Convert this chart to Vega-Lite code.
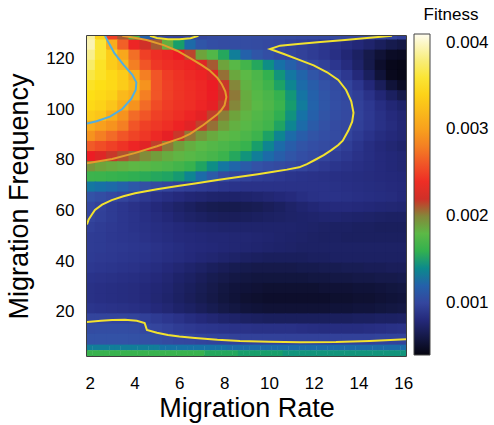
{
"$schema":"https://vega.github.io/schema/vega-lite/v6.json",
"width":319,"height":320,
"autosize":{"type":"none"},
"padding":{"left":87,"top":36,"right":88,"bottom":69},
"background":"white",
"config":{"font":"Liberation Sans","view":{"stroke":"#000","strokeWidth":1.5},
"axis":{"grid":false,"ticks":false,"domain":false,"labelColor":"#000","titleColor":"#000","labelFontSize":17,"titleFontSize":27,"titleFontWeight":"normal","labelFlush":false}},
"datasets":{
"grid":[
{"r":2,"f":129,"v":0.0039},{"r":2.5,"f":129,"v":0.0034},{"r":3,"f":129,"v":0.0025},{"r":3.5,"f":129,"v":0.0021},{"r":4,"f":129,"v":0.0017},{"r":4.5,"f":129,"v":0.0012},{"r":5,"f":129,"v":0.00103},{"r":5.5,"f":129,"v":0.00098},{"r":6,"f":129,"v":0.00097},{"r":6.5,"f":129,"v":0.00098},{"r":7,"f":129,"v":0.00101},{"r":7.5,"f":129,"v":0.00103},{"r":8,"f":129,"v":0.00104},{"r":8.5,"f":129,"v":0.00105},{"r":9,"f":129,"v":0.00105},{"r":9.5,"f":129,"v":0.00104},{"r":10,"f":129,"v":0.00104},{"r":10.5,"f":129,"v":0.00103},{"r":11,"f":129,"v":0.00103},{"r":11.5,"f":129,"v":0.00102},{"r":12,"f":129,"v":0.00102},{"r":12.5,"f":129,"v":0.00102},{"r":13,"f":129,"v":0.00102},{"r":13.5,"f":129,"v":0.00101},{"r":14,"f":129,"v":0.00101},{"r":14.5,"f":129,"v":0.00101},{"r":15,"f":129,"v":0.001005},{"r":15.5,"f":129,"v":0.00099},{"r":16,"f":129,"v":0.00095},
{"r":2,"f":125,"v":0.00395},{"r":2.5,"f":125,"v":0.0036},{"r":3,"f":125,"v":0.0031},{"r":3.5,"f":125,"v":0.00265},{"r":4,"f":125,"v":0.00235},{"r":4.5,"f":125,"v":0.0022},{"r":5,"f":125,"v":0.0021},{"r":5.5,"f":125,"v":0.00185},{"r":6,"f":125,"v":0.0015},{"r":6.5,"f":125,"v":0.00125},{"r":7,"f":125,"v":0.00112},{"r":7.5,"f":125,"v":0.00107},{"r":8,"f":125,"v":0.00105},{"r":8.5,"f":125,"v":0.00105},{"r":9,"f":125,"v":0.00105},{"r":9.5,"f":125,"v":0.00104},{"r":10,"f":125,"v":0.00102},{"r":10.5,"f":125,"v":0.001},{"r":11,"f":125,"v":0.00097},{"r":11.5,"f":125,"v":0.00095},{"r":12,"f":125,"v":0.00093},{"r":12.5,"f":125,"v":0.0009},{"r":13,"f":125,"v":0.00087},{"r":13.5,"f":125,"v":0.00083},{"r":14,"f":125,"v":0.00079},{"r":14.5,"f":125,"v":0.00074},{"r":15,"f":125,"v":0.00068},{"r":15.5,"f":125,"v":0.00063},{"r":16,"f":125,"v":0.0006},
{"r":2,"f":121,"v":0.00385},{"r":2.5,"f":121,"v":0.0036},{"r":3,"f":121,"v":0.00335},{"r":3.5,"f":121,"v":0.00305},{"r":4,"f":121,"v":0.00272},{"r":4.5,"f":121,"v":0.0025},{"r":5,"f":121,"v":0.0024},{"r":5.5,"f":121,"v":0.00236},{"r":6,"f":121,"v":0.0023},{"r":6.5,"f":121,"v":0.00215},{"r":7,"f":121,"v":0.0019},{"r":7.5,"f":121,"v":0.00175},{"r":8,"f":121,"v":0.00155},{"r":8.5,"f":121,"v":0.00135},{"r":9,"f":121,"v":0.0012},{"r":9.5,"f":121,"v":0.00112},{"r":10,"f":121,"v":0.00107},{"r":10.5,"f":121,"v":0.00102},{"r":11,"f":121,"v":0.000995},{"r":11.5,"f":121,"v":0.00097},{"r":12,"f":121,"v":0.00094},{"r":12.5,"f":121,"v":0.0009},{"r":13,"f":121,"v":0.00085},{"r":13.5,"f":121,"v":0.00078},{"r":14,"f":121,"v":0.0007},{"r":14.5,"f":121,"v":0.00062},{"r":15,"f":121,"v":0.00055},{"r":15.5,"f":121,"v":0.0005},{"r":16,"f":121,"v":0.00048},
{"r":2,"f":117,"v":0.00375},{"r":2.5,"f":117,"v":0.00355},{"r":3,"f":117,"v":0.00335},{"r":3.5,"f":117,"v":0.0032},{"r":4,"f":117,"v":0.0028},{"r":4.5,"f":117,"v":0.0026},{"r":5,"f":117,"v":0.00245},{"r":5.5,"f":117,"v":0.0024},{"r":6,"f":117,"v":0.00237},{"r":6.5,"f":117,"v":0.00234},{"r":7,"f":117,"v":0.00225},{"r":7.5,"f":117,"v":0.0021},{"r":8,"f":117,"v":0.0019},{"r":8.5,"f":117,"v":0.00178},{"r":9,"f":117,"v":0.00168},{"r":9.5,"f":117,"v":0.00155},{"r":10,"f":117,"v":0.00142},{"r":10.5,"f":117,"v":0.00129},{"r":11,"f":117,"v":0.00119},{"r":11.5,"f":117,"v":0.0011},{"r":12,"f":117,"v":0.001005},{"r":12.5,"f":117,"v":0.00096},{"r":13,"f":117,"v":0.0009},{"r":13.5,"f":117,"v":0.00082},{"r":14,"f":117,"v":0.00072},{"r":14.5,"f":117,"v":0.00062},{"r":15,"f":117,"v":0.00052},{"r":15.5,"f":117,"v":0.00045},{"r":16,"f":117,"v":0.00043},
{"r":2,"f":113,"v":0.00365},{"r":2.5,"f":113,"v":0.00355},{"r":3,"f":113,"v":0.00345},{"r":3.5,"f":113,"v":0.00335},{"r":4,"f":113,"v":0.0031},{"r":4.5,"f":113,"v":0.0028},{"r":5,"f":113,"v":0.0026},{"r":5.5,"f":113,"v":0.00248},{"r":6,"f":113,"v":0.00242},{"r":6.5,"f":113,"v":0.00238},{"r":7,"f":113,"v":0.00234},{"r":7.5,"f":113,"v":0.00225},{"r":8,"f":113,"v":0.00205},{"r":8.5,"f":113,"v":0.00188},{"r":9,"f":113,"v":0.0018},{"r":9.5,"f":113,"v":0.00172},{"r":10,"f":113,"v":0.0016},{"r":10.5,"f":113,"v":0.00145},{"r":11,"f":113,"v":0.00132},{"r":11.5,"f":113,"v":0.00122},{"r":12,"f":113,"v":0.00112},{"r":12.5,"f":113,"v":0.00104},{"r":13,"f":113,"v":0.000985},{"r":13.5,"f":113,"v":0.00091},{"r":14,"f":113,"v":0.0008},{"r":14.5,"f":113,"v":0.00068},{"r":15,"f":113,"v":0.00056},{"r":15.5,"f":113,"v":0.00046},{"r":16,"f":113,"v":0.00043},
{"r":2,"f":109,"v":0.00355},{"r":2.5,"f":109,"v":0.0035},{"r":3,"f":109,"v":0.00345},{"r":3.5,"f":109,"v":0.00335},{"r":4,"f":109,"v":0.0032},{"r":4.5,"f":109,"v":0.0029},{"r":5,"f":109,"v":0.0026},{"r":5.5,"f":109,"v":0.0025},{"r":6,"f":109,"v":0.00244},{"r":6.5,"f":109,"v":0.0024},{"r":7,"f":109,"v":0.00236},{"r":7.5,"f":109,"v":0.0023},{"r":8,"f":109,"v":0.00218},{"r":8.5,"f":109,"v":0.002},{"r":9,"f":109,"v":0.00183},{"r":9.5,"f":109,"v":0.00174},{"r":10,"f":109,"v":0.00166},{"r":10.5,"f":109,"v":0.00152},{"r":11,"f":109,"v":0.00138},{"r":11.5,"f":109,"v":0.00126},{"r":12,"f":109,"v":0.00117},{"r":12.5,"f":109,"v":0.0011},{"r":13,"f":109,"v":0.00103},{"r":13.5,"f":109,"v":0.00098},{"r":14,"f":109,"v":0.0009},{"r":14.5,"f":109,"v":0.00079},{"r":15,"f":109,"v":0.00067},{"r":15.5,"f":109,"v":0.00056},{"r":16,"f":109,"v":0.0005},
{"r":2,"f":105,"v":0.0035},{"r":2.5,"f":105,"v":0.00345},{"r":3,"f":105,"v":0.0034},{"r":3.5,"f":105,"v":0.0032},{"r":4,"f":105,"v":0.0031},{"r":4.5,"f":105,"v":0.0028},{"r":5,"f":105,"v":0.0026},{"r":5.5,"f":105,"v":0.0025},{"r":6,"f":105,"v":0.00244},{"r":6.5,"f":105,"v":0.0024},{"r":7,"f":105,"v":0.00236},{"r":7.5,"f":105,"v":0.0023},{"r":8,"f":105,"v":0.0022},{"r":8.5,"f":105,"v":0.00203},{"r":9,"f":105,"v":0.00186},{"r":9.5,"f":105,"v":0.00177},{"r":10,"f":105,"v":0.00171},{"r":10.5,"f":105,"v":0.00161},{"r":11,"f":105,"v":0.00146},{"r":11.5,"f":105,"v":0.00131},{"r":12,"f":105,"v":0.0012},{"r":12.5,"f":105,"v":0.00112},{"r":13,"f":105,"v":0.00106},{"r":13.5,"f":105,"v":0.00101},{"r":14,"f":105,"v":0.00095},{"r":14.5,"f":105,"v":0.00087},{"r":15,"f":105,"v":0.00078},{"r":15.5,"f":105,"v":0.00069},{"r":16,"f":105,"v":0.00062},
{"r":2,"f":101,"v":0.00345},{"r":2.5,"f":101,"v":0.0034},{"r":3,"f":101,"v":0.0033},{"r":3.5,"f":101,"v":0.0031},{"r":4,"f":101,"v":0.0029},{"r":4.5,"f":101,"v":0.0027},{"r":5,"f":101,"v":0.00255},{"r":5.5,"f":101,"v":0.00248},{"r":6,"f":101,"v":0.00243},{"r":6.5,"f":101,"v":0.0024},{"r":7,"f":101,"v":0.00235},{"r":7.5,"f":101,"v":0.00228},{"r":8,"f":101,"v":0.00216},{"r":8.5,"f":101,"v":0.002},{"r":9,"f":101,"v":0.00187},{"r":9.5,"f":101,"v":0.00179},{"r":10,"f":101,"v":0.00173},{"r":10.5,"f":101,"v":0.00164},{"r":11,"f":101,"v":0.00149},{"r":11.5,"f":101,"v":0.00134},{"r":12,"f":101,"v":0.00121},{"r":12.5,"f":101,"v":0.00113},{"r":13,"f":101,"v":0.00107},{"r":13.5,"f":101,"v":0.00103},{"r":14,"f":101,"v":0.00097},{"r":14.5,"f":101,"v":0.00091},{"r":15,"f":101,"v":0.00084},{"r":15.5,"f":101,"v":0.00078},{"r":16,"f":101,"v":0.00073},
{"r":2,"f":97,"v":0.00335},{"r":2.5,"f":97,"v":0.0033},{"r":3,"f":97,"v":0.0031},{"r":3.5,"f":97,"v":0.0029},{"r":4,"f":97,"v":0.0027},{"r":4.5,"f":97,"v":0.0026},{"r":5,"f":97,"v":0.0025},{"r":5.5,"f":97,"v":0.00245},{"r":6,"f":97,"v":0.0024},{"r":6.5,"f":97,"v":0.00235},{"r":7,"f":97,"v":0.00227},{"r":7.5,"f":97,"v":0.00216},{"r":8,"f":97,"v":0.00202},{"r":8.5,"f":97,"v":0.0019},{"r":9,"f":97,"v":0.00182},{"r":9.5,"f":97,"v":0.00175},{"r":10,"f":97,"v":0.0017},{"r":10.5,"f":97,"v":0.00159},{"r":11,"f":97,"v":0.00144},{"r":11.5,"f":97,"v":0.0013},{"r":12,"f":97,"v":0.00119},{"r":12.5,"f":97,"v":0.00111},{"r":13,"f":97,"v":0.00106},{"r":13.5,"f":97,"v":0.001025},{"r":14,"f":97,"v":0.000975},{"r":14.5,"f":97,"v":0.00092},{"r":15,"f":97,"v":0.00086},{"r":15.5,"f":97,"v":0.00081},{"r":16,"f":97,"v":0.00077},
{"r":2,"f":93,"v":0.0031},{"r":2.5,"f":93,"v":0.003},{"r":3,"f":93,"v":0.0029},{"r":3.5,"f":93,"v":0.0028},{"r":4,"f":93,"v":0.0026},{"r":4.5,"f":93,"v":0.0025},{"r":5,"f":93,"v":0.00245},{"r":5.5,"f":93,"v":0.0024},{"r":6,"f":93,"v":0.00234},{"r":6.5,"f":93,"v":0.00226},{"r":7,"f":93,"v":0.00216},{"r":7.5,"f":93,"v":0.00205},{"r":8,"f":93,"v":0.00193},{"r":8.5,"f":93,"v":0.00184},{"r":9,"f":93,"v":0.00178},{"r":9.5,"f":93,"v":0.00172},{"r":10,"f":93,"v":0.00167},{"r":10.5,"f":93,"v":0.00153},{"r":11,"f":93,"v":0.00138},{"r":11.5,"f":93,"v":0.00126},{"r":12,"f":93,"v":0.00116},{"r":12.5,"f":93,"v":0.00109},{"r":13,"f":93,"v":0.00104},{"r":13.5,"f":93,"v":0.001015},{"r":14,"f":93,"v":0.00096},{"r":14.5,"f":93,"v":0.00091},{"r":15,"f":93,"v":0.00086},{"r":15.5,"f":93,"v":0.00082},{"r":16,"f":93,"v":0.00078},
{"r":2,"f":89,"v":0.0029},{"r":2.5,"f":89,"v":0.0028},{"r":3,"f":89,"v":0.0027},{"r":3.5,"f":89,"v":0.0026},{"r":4,"f":89,"v":0.00252},{"r":4.5,"f":89,"v":0.00245},{"r":5,"f":89,"v":0.00237},{"r":5.5,"f":89,"v":0.00228},{"r":6,"f":89,"v":0.00218},{"r":6.5,"f":89,"v":0.00204},{"r":7,"f":89,"v":0.00195},{"r":7.5,"f":89,"v":0.00187},{"r":8,"f":89,"v":0.00181},{"r":8.5,"f":89,"v":0.00177},{"r":9,"f":89,"v":0.00172},{"r":9.5,"f":89,"v":0.00165},{"r":10,"f":89,"v":0.00152},{"r":10.5,"f":89,"v":0.00138},{"r":11,"f":89,"v":0.00126},{"r":11.5,"f":89,"v":0.00117},{"r":12,"f":89,"v":0.00111},{"r":12.5,"f":89,"v":0.00107},{"r":13,"f":89,"v":0.00104},{"r":13.5,"f":89,"v":0.00099},{"r":14,"f":89,"v":0.00093},{"r":14.5,"f":89,"v":0.00088},{"r":15,"f":89,"v":0.00083},{"r":15.5,"f":89,"v":0.0008},{"r":16,"f":89,"v":0.00077},
{"r":2,"f":85,"v":0.00262},{"r":2.5,"f":85,"v":0.00256},{"r":3,"f":85,"v":0.0025},{"r":3.5,"f":85,"v":0.00243},{"r":4,"f":85,"v":0.00235},{"r":4.5,"f":85,"v":0.00226},{"r":5,"f":85,"v":0.00216},{"r":5.5,"f":85,"v":0.00203},{"r":6,"f":85,"v":0.00192},{"r":6.5,"f":85,"v":0.00185},{"r":7,"f":85,"v":0.0018},{"r":7.5,"f":85,"v":0.00176},{"r":8,"f":85,"v":0.00172},{"r":8.5,"f":85,"v":0.00168},{"r":9,"f":85,"v":0.00162},{"r":9.5,"f":85,"v":0.0015},{"r":10,"f":85,"v":0.00138},{"r":10.5,"f":85,"v":0.00126},{"r":11,"f":85,"v":0.00117},{"r":11.5,"f":85,"v":0.00111},{"r":12,"f":85,"v":0.00107},{"r":12.5,"f":85,"v":0.00104},{"r":13,"f":85,"v":0.001},{"r":13.5,"f":85,"v":0.00095},{"r":14,"f":85,"v":0.00089},{"r":14.5,"f":85,"v":0.00084},{"r":15,"f":85,"v":0.0008},{"r":15.5,"f":85,"v":0.00077},{"r":16,"f":85,"v":0.00074},
{"r":2,"f":81,"v":0.0023},{"r":2.5,"f":81,"v":0.00225},{"r":3,"f":81,"v":0.00218},{"r":3.5,"f":81,"v":0.00212},{"r":4,"f":81,"v":0.00205},{"r":4.5,"f":81,"v":0.00198},{"r":5,"f":81,"v":0.00192},{"r":5.5,"f":81,"v":0.00186},{"r":6,"f":81,"v":0.00182},{"r":6.5,"f":81,"v":0.00178},{"r":7,"f":81,"v":0.00174},{"r":7.5,"f":81,"v":0.0017},{"r":8,"f":81,"v":0.00164},{"r":8.5,"f":81,"v":0.00155},{"r":9,"f":81,"v":0.00145},{"r":9.5,"f":81,"v":0.00135},{"r":10,"f":81,"v":0.00126},{"r":10.5,"f":81,"v":0.00118},{"r":11,"f":81,"v":0.00112},{"r":11.5,"f":81,"v":0.00107},{"r":12,"f":81,"v":0.00103},{"r":12.5,"f":81,"v":0.00099},{"r":13,"f":81,"v":0.00095},{"r":13.5,"f":81,"v":0.00091},{"r":14,"f":81,"v":0.00087},{"r":14.5,"f":81,"v":0.00084},{"r":15,"f":81,"v":0.00081},{"r":15.5,"f":81,"v":0.00079},{"r":16,"f":81,"v":0.00077},
{"r":2,"f":77,"v":0.00195},{"r":2.5,"f":77,"v":0.0019},{"r":3,"f":77,"v":0.00187},{"r":3.5,"f":77,"v":0.00184},{"r":4,"f":77,"v":0.00181},{"r":4.5,"f":77,"v":0.00178},{"r":5,"f":77,"v":0.00175},{"r":5.5,"f":77,"v":0.00172},{"r":6,"f":77,"v":0.00168},{"r":6.5,"f":77,"v":0.00162},{"r":7,"f":77,"v":0.00153},{"r":7.5,"f":77,"v":0.00142},{"r":8,"f":77,"v":0.00132},{"r":8.5,"f":77,"v":0.00123},{"r":9,"f":77,"v":0.00116},{"r":9.5,"f":77,"v":0.0011},{"r":10,"f":77,"v":0.00106},{"r":10.5,"f":77,"v":0.00103},{"r":11,"f":77,"v":0.00101},{"r":11.5,"f":77,"v":0.000985},{"r":12,"f":77,"v":0.00095},{"r":12.5,"f":77,"v":0.00092},{"r":13,"f":77,"v":0.00089},{"r":13.5,"f":77,"v":0.00087},{"r":14,"f":77,"v":0.00085},{"r":14.5,"f":77,"v":0.00083},{"r":15,"f":77,"v":0.00081},{"r":15.5,"f":77,"v":0.00079},{"r":16,"f":77,"v":0.00077},
{"r":2,"f":73,"v":0.00165},{"r":2.5,"f":73,"v":0.00164},{"r":3,"f":73,"v":0.00162},{"r":3.5,"f":73,"v":0.0016},{"r":4,"f":73,"v":0.00159},{"r":4.5,"f":73,"v":0.00157},{"r":5,"f":73,"v":0.00155},{"r":5.5,"f":73,"v":0.00153},{"r":6,"f":73,"v":0.00148},{"r":6.5,"f":73,"v":0.00138},{"r":7,"f":73,"v":0.00126},{"r":7.5,"f":73,"v":0.00115},{"r":8,"f":73,"v":0.00104},{"r":8.5,"f":73,"v":0.001},{"r":9,"f":73,"v":0.00098},{"r":9.5,"f":73,"v":0.00095},{"r":10,"f":73,"v":0.00093},{"r":10.5,"f":73,"v":0.00091},{"r":11,"f":73,"v":0.00089},{"r":11.5,"f":73,"v":0.00088},{"r":12,"f":73,"v":0.00087},{"r":12.5,"f":73,"v":0.00086},{"r":13,"f":73,"v":0.00085},{"r":13.5,"f":73,"v":0.00084},{"r":14,"f":73,"v":0.00083},{"r":14.5,"f":73,"v":0.00082},{"r":15,"f":73,"v":0.00081},{"r":15.5,"f":73,"v":0.0008},{"r":16,"f":73,"v":0.00079},
{"r":2,"f":69,"v":0.00132},{"r":2.5,"f":69,"v":0.00129},{"r":3,"f":69,"v":0.00125},{"r":3.5,"f":69,"v":0.0012},{"r":4,"f":69,"v":0.00114},{"r":4.5,"f":69,"v":0.00108},{"r":5,"f":69,"v":0.00103},{"r":5.5,"f":69,"v":0.000995},{"r":6,"f":69,"v":0.00097},{"r":6.5,"f":69,"v":0.00095},{"r":7,"f":69,"v":0.00093},{"r":7.5,"f":69,"v":0.00091},{"r":8,"f":69,"v":0.00089},{"r":8.5,"f":69,"v":0.00088},{"r":9,"f":69,"v":0.00087},{"r":9.5,"f":69,"v":0.00087},{"r":10,"f":69,"v":0.00087},{"r":10.5,"f":69,"v":0.00087},{"r":11,"f":69,"v":0.00087},{"r":11.5,"f":69,"v":0.00087},{"r":12,"f":69,"v":0.00087},{"r":12.5,"f":69,"v":0.00087},{"r":13,"f":69,"v":0.00086},{"r":13.5,"f":69,"v":0.00085},{"r":14,"f":69,"v":0.00084},{"r":14.5,"f":69,"v":0.00083},{"r":15,"f":69,"v":0.00082},{"r":15.5,"f":69,"v":0.00081},{"r":16,"f":69,"v":0.0008},
{"r":2,"f":65,"v":0.0011},{"r":2.5,"f":65,"v":0.00106},{"r":3,"f":65,"v":0.00102},{"r":3.5,"f":65,"v":0.00099},{"r":4,"f":65,"v":0.00095},{"r":4.5,"f":65,"v":0.00091},{"r":5,"f":65,"v":0.00087},{"r":5.5,"f":65,"v":0.00084},{"r":6,"f":65,"v":0.00081},{"r":6.5,"f":65,"v":0.00078},{"r":7,"f":65,"v":0.00076},{"r":7.5,"f":65,"v":0.00074},{"r":8,"f":65,"v":0.00073},{"r":8.5,"f":65,"v":0.00073},{"r":9,"f":65,"v":0.00074},{"r":9.5,"f":65,"v":0.00075},{"r":10,"f":65,"v":0.00077},{"r":10.5,"f":65,"v":0.00079},{"r":11,"f":65,"v":0.00081},{"r":11.5,"f":65,"v":0.00084},{"r":12,"f":65,"v":0.00086},{"r":12.5,"f":65,"v":0.00087},{"r":13,"f":65,"v":0.00087},{"r":13.5,"f":65,"v":0.00086},{"r":14,"f":65,"v":0.00085},{"r":14.5,"f":65,"v":0.00084},{"r":15,"f":65,"v":0.00083},{"r":15.5,"f":65,"v":0.00082},{"r":16,"f":65,"v":0.0008},
{"r":2,"f":61,"v":0.00101},{"r":2.5,"f":61,"v":0.00097},{"r":3,"f":61,"v":0.00093},{"r":3.5,"f":61,"v":0.0009},{"r":4,"f":61,"v":0.00087},{"r":4.5,"f":61,"v":0.00084},{"r":5,"f":61,"v":0.0008},{"r":5.5,"f":61,"v":0.00076},{"r":6,"f":61,"v":0.00072},{"r":6.5,"f":61,"v":0.00069},{"r":7,"f":61,"v":0.00066},{"r":7.5,"f":61,"v":0.00064},{"r":8,"f":61,"v":0.00063},{"r":8.5,"f":61,"v":0.00063},{"r":9,"f":61,"v":0.00064},{"r":9.5,"f":61,"v":0.00065},{"r":10,"f":61,"v":0.00067},{"r":10.5,"f":61,"v":0.00069},{"r":11,"f":61,"v":0.00072},{"r":11.5,"f":61,"v":0.00075},{"r":12,"f":61,"v":0.00078},{"r":12.5,"f":61,"v":0.0008},{"r":13,"f":61,"v":0.00081},{"r":13.5,"f":61,"v":0.00081},{"r":14,"f":61,"v":0.0008},{"r":14.5,"f":61,"v":0.00079},{"r":15,"f":61,"v":0.00078},{"r":15.5,"f":61,"v":0.00077},{"r":16,"f":61,"v":0.00076},
{"r":2,"f":57,"v":0.000995},{"r":2.5,"f":57,"v":0.00096},{"r":3,"f":57,"v":0.00093},{"r":3.5,"f":57,"v":0.0009},{"r":4,"f":57,"v":0.00088},{"r":4.5,"f":57,"v":0.00085},{"r":5,"f":57,"v":0.00082},{"r":5.5,"f":57,"v":0.00079},{"r":6,"f":57,"v":0.00075},{"r":6.5,"f":57,"v":0.00072},{"r":7,"f":57,"v":0.0007},{"r":7.5,"f":57,"v":0.00068},{"r":8,"f":57,"v":0.00067},{"r":8.5,"f":57,"v":0.00067},{"r":9,"f":57,"v":0.00068},{"r":9.5,"f":57,"v":0.00069},{"r":10,"f":57,"v":0.0007},{"r":10.5,"f":57,"v":0.00071},{"r":11,"f":57,"v":0.00072},{"r":11.5,"f":57,"v":0.00073},{"r":12,"f":57,"v":0.00074},{"r":12.5,"f":57,"v":0.00075},{"r":13,"f":57,"v":0.00075},{"r":13.5,"f":57,"v":0.00074},{"r":14,"f":57,"v":0.00073},{"r":14.5,"f":57,"v":0.00072},{"r":15,"f":57,"v":0.00071},{"r":15.5,"f":57,"v":0.0007},{"r":16,"f":57,"v":0.0007},
{"r":2,"f":53,"v":0.00096},{"r":2.5,"f":53,"v":0.00094},{"r":3,"f":53,"v":0.00092},{"r":3.5,"f":53,"v":0.0009},{"r":4,"f":53,"v":0.00088},{"r":4.5,"f":53,"v":0.00086},{"r":5,"f":53,"v":0.00084},{"r":5.5,"f":53,"v":0.00082},{"r":6,"f":53,"v":0.0008},{"r":6.5,"f":53,"v":0.00078},{"r":7,"f":53,"v":0.00076},{"r":7.5,"f":53,"v":0.00075},{"r":8,"f":53,"v":0.00074},{"r":8.5,"f":53,"v":0.00074},{"r":9,"f":53,"v":0.00074},{"r":9.5,"f":53,"v":0.00074},{"r":10,"f":53,"v":0.00074},{"r":10.5,"f":53,"v":0.00074},{"r":11,"f":53,"v":0.00074},{"r":11.5,"f":53,"v":0.00073},{"r":12,"f":53,"v":0.00072},{"r":12.5,"f":53,"v":0.00071},{"r":13,"f":53,"v":0.0007},{"r":13.5,"f":53,"v":0.0007},{"r":14,"f":53,"v":0.00069},{"r":14.5,"f":53,"v":0.00069},{"r":15,"f":53,"v":0.00068},{"r":15.5,"f":53,"v":0.00068},{"r":16,"f":53,"v":0.00068},
{"r":2,"f":49,"v":0.00094},{"r":2.5,"f":49,"v":0.00093},{"r":3,"f":49,"v":0.00091},{"r":3.5,"f":49,"v":0.0009},{"r":4,"f":49,"v":0.00089},{"r":4.5,"f":49,"v":0.00087},{"r":5,"f":49,"v":0.00085},{"r":5.5,"f":49,"v":0.00083},{"r":6,"f":49,"v":0.00081},{"r":6.5,"f":49,"v":0.0008},{"r":7,"f":49,"v":0.00079},{"r":7.5,"f":49,"v":0.00078},{"r":8,"f":49,"v":0.00078},{"r":8.5,"f":49,"v":0.00077},{"r":9,"f":49,"v":0.00077},{"r":9.5,"f":49,"v":0.00076},{"r":10,"f":49,"v":0.00075},{"r":10.5,"f":49,"v":0.00074},{"r":11,"f":49,"v":0.00073},{"r":11.5,"f":49,"v":0.00072},{"r":12,"f":49,"v":0.00071},{"r":12.5,"f":49,"v":0.0007},{"r":13,"f":49,"v":0.0007},{"r":13.5,"f":49,"v":0.00069},{"r":14,"f":49,"v":0.00069},{"r":14.5,"f":49,"v":0.00069},{"r":15,"f":49,"v":0.00069},{"r":15.5,"f":49,"v":0.00069},{"r":16,"f":49,"v":0.00069},
{"r":2,"f":45,"v":0.00094},{"r":2.5,"f":45,"v":0.00093},{"r":3,"f":45,"v":0.00092},{"r":3.5,"f":45,"v":0.00091},{"r":4,"f":45,"v":0.0009},{"r":4.5,"f":45,"v":0.00089},{"r":5,"f":45,"v":0.00087},{"r":5.5,"f":45,"v":0.00085},{"r":6,"f":45,"v":0.00083},{"r":6.5,"f":45,"v":0.00081},{"r":7,"f":45,"v":0.0008},{"r":7.5,"f":45,"v":0.00079},{"r":8,"f":45,"v":0.00078},{"r":8.5,"f":45,"v":0.00077},{"r":9,"f":45,"v":0.00076},{"r":9.5,"f":45,"v":0.00075},{"r":10,"f":45,"v":0.00074},{"r":10.5,"f":45,"v":0.00073},{"r":11,"f":45,"v":0.00072},{"r":11.5,"f":45,"v":0.00071},{"r":12,"f":45,"v":0.00071},{"r":12.5,"f":45,"v":0.00071},{"r":13,"f":45,"v":0.00071},{"r":13.5,"f":45,"v":0.00071},{"r":14,"f":45,"v":0.00071},{"r":14.5,"f":45,"v":0.00071},{"r":15,"f":45,"v":0.00071},{"r":15.5,"f":45,"v":0.00071},{"r":16,"f":45,"v":0.00071},
{"r":2,"f":41,"v":0.00093},{"r":2.5,"f":41,"v":0.00092},{"r":3,"f":41,"v":0.00091},{"r":3.5,"f":41,"v":0.0009},{"r":4,"f":41,"v":0.00089},{"r":4.5,"f":41,"v":0.00088},{"r":5,"f":41,"v":0.00086},{"r":5.5,"f":41,"v":0.00084},{"r":6,"f":41,"v":0.00082},{"r":6.5,"f":41,"v":0.0008},{"r":7,"f":41,"v":0.00078},{"r":7.5,"f":41,"v":0.00076},{"r":8,"f":41,"v":0.00074},{"r":8.5,"f":41,"v":0.00072},{"r":9,"f":41,"v":0.0007},{"r":9.5,"f":41,"v":0.00069},{"r":10,"f":41,"v":0.00068},{"r":10.5,"f":41,"v":0.00068},{"r":11,"f":41,"v":0.00068},{"r":11.5,"f":41,"v":0.00068},{"r":12,"f":41,"v":0.00069},{"r":12.5,"f":41,"v":0.00069},{"r":13,"f":41,"v":0.0007},{"r":13.5,"f":41,"v":0.0007},{"r":14,"f":41,"v":0.0007},{"r":14.5,"f":41,"v":0.0007},{"r":15,"f":41,"v":0.0007},{"r":15.5,"f":41,"v":0.0007},{"r":16,"f":41,"v":0.0007},
{"r":2,"f":37,"v":0.00091},{"r":2.5,"f":37,"v":0.0009},{"r":3,"f":37,"v":0.00089},{"r":3.5,"f":37,"v":0.00088},{"r":4,"f":37,"v":0.00087},{"r":4.5,"f":37,"v":0.00085},{"r":5,"f":37,"v":0.00083},{"r":5.5,"f":37,"v":0.0008},{"r":6,"f":37,"v":0.00077},{"r":6.5,"f":37,"v":0.00074},{"r":7,"f":37,"v":0.00071},{"r":7.5,"f":37,"v":0.00068},{"r":8,"f":37,"v":0.00066},{"r":8.5,"f":37,"v":0.00064},{"r":9,"f":37,"v":0.00063},{"r":9.5,"f":37,"v":0.00062},{"r":10,"f":37,"v":0.00062},{"r":10.5,"f":37,"v":0.00062},{"r":11,"f":37,"v":0.00062},{"r":11.5,"f":37,"v":0.00063},{"r":12,"f":37,"v":0.00063},{"r":12.5,"f":37,"v":0.00064},{"r":13,"f":37,"v":0.00064},{"r":13.5,"f":37,"v":0.00065},{"r":14,"f":37,"v":0.00065},{"r":14.5,"f":37,"v":0.00066},{"r":15,"f":37,"v":0.00066},{"r":15.5,"f":37,"v":0.00067},{"r":16,"f":37,"v":0.00067},
{"r":2,"f":33,"v":0.00088},{"r":2.5,"f":33,"v":0.00087},{"r":3,"f":33,"v":0.00086},{"r":3.5,"f":33,"v":0.00085},{"r":4,"f":33,"v":0.00084},{"r":4.5,"f":33,"v":0.00082},{"r":5,"f":33,"v":0.0008},{"r":5.5,"f":33,"v":0.00077},{"r":6,"f":33,"v":0.00073},{"r":6.5,"f":33,"v":0.0007},{"r":7,"f":33,"v":0.00067},{"r":7.5,"f":33,"v":0.00064},{"r":8,"f":33,"v":0.00062},{"r":8.5,"f":33,"v":0.0006},{"r":9,"f":33,"v":0.00059},{"r":9.5,"f":33,"v":0.00058},{"r":10,"f":33,"v":0.00058},{"r":10.5,"f":33,"v":0.00058},{"r":11,"f":33,"v":0.00058},{"r":11.5,"f":33,"v":0.00058},{"r":12,"f":33,"v":0.00059},{"r":12.5,"f":33,"v":0.00059},{"r":13,"f":33,"v":0.0006},{"r":13.5,"f":33,"v":0.0006},{"r":14,"f":33,"v":0.00061},{"r":14.5,"f":33,"v":0.00061},{"r":15,"f":33,"v":0.00062},{"r":15.5,"f":33,"v":0.00062},{"r":16,"f":33,"v":0.00063},
{"r":2,"f":29,"v":0.00086},{"r":2.5,"f":29,"v":0.00085},{"r":3,"f":29,"v":0.00084},{"r":3.5,"f":29,"v":0.00083},{"r":4,"f":29,"v":0.00082},{"r":4.5,"f":29,"v":0.0008},{"r":5,"f":29,"v":0.00078},{"r":5.5,"f":29,"v":0.00075},{"r":6,"f":29,"v":0.00071},{"r":6.5,"f":29,"v":0.00068},{"r":7,"f":29,"v":0.00065},{"r":7.5,"f":29,"v":0.00062},{"r":8,"f":29,"v":0.00059},{"r":8.5,"f":29,"v":0.00057},{"r":9,"f":29,"v":0.00056},{"r":9.5,"f":29,"v":0.00055},{"r":10,"f":29,"v":0.00054},{"r":10.5,"f":29,"v":0.00054},{"r":11,"f":29,"v":0.00054},{"r":11.5,"f":29,"v":0.00054},{"r":12,"f":29,"v":0.00054},{"r":12.5,"f":29,"v":0.00055},{"r":13,"f":29,"v":0.00055},{"r":13.5,"f":29,"v":0.00055},{"r":14,"f":29,"v":0.00056},{"r":14.5,"f":29,"v":0.00056},{"r":15,"f":29,"v":0.00057},{"r":15.5,"f":29,"v":0.00058},{"r":16,"f":29,"v":0.00059},
{"r":2,"f":25,"v":0.00086},{"r":2.5,"f":25,"v":0.00085},{"r":3,"f":25,"v":0.00084},{"r":3.5,"f":25,"v":0.00083},{"r":4,"f":25,"v":0.00082},{"r":4.5,"f":25,"v":0.0008},{"r":5,"f":25,"v":0.00077},{"r":5.5,"f":25,"v":0.00074},{"r":6,"f":25,"v":0.0007},{"r":6.5,"f":25,"v":0.00067},{"r":7,"f":25,"v":0.00064},{"r":7.5,"f":25,"v":0.00061},{"r":8,"f":25,"v":0.00058},{"r":8.5,"f":25,"v":0.00056},{"r":9,"f":25,"v":0.00054},{"r":9.5,"f":25,"v":0.00053},{"r":10,"f":25,"v":0.00052},{"r":10.5,"f":25,"v":0.00052},{"r":11,"f":25,"v":0.00052},{"r":11.5,"f":25,"v":0.00052},{"r":12,"f":25,"v":0.00052},{"r":12.5,"f":25,"v":0.00052},{"r":13,"f":25,"v":0.00053},{"r":13.5,"f":25,"v":0.00053},{"r":14,"f":25,"v":0.00054},{"r":14.5,"f":25,"v":0.00054},{"r":15,"f":25,"v":0.00055},{"r":15.5,"f":25,"v":0.00056},{"r":16,"f":25,"v":0.00057},
{"r":2,"f":21,"v":0.00089},{"r":2.5,"f":21,"v":0.00088},{"r":3,"f":21,"v":0.00087},{"r":3.5,"f":21,"v":0.00086},{"r":4,"f":21,"v":0.00085},{"r":4.5,"f":21,"v":0.00083},{"r":5,"f":21,"v":0.0008},{"r":5.5,"f":21,"v":0.00077},{"r":6,"f":21,"v":0.00073},{"r":6.5,"f":21,"v":0.0007},{"r":7,"f":21,"v":0.00067},{"r":7.5,"f":21,"v":0.00064},{"r":8,"f":21,"v":0.00061},{"r":8.5,"f":21,"v":0.00059},{"r":9,"f":21,"v":0.00057},{"r":9.5,"f":21,"v":0.00056},{"r":10,"f":21,"v":0.00055},{"r":10.5,"f":21,"v":0.00055},{"r":11,"f":21,"v":0.00055},{"r":11.5,"f":21,"v":0.00055},{"r":12,"f":21,"v":0.00055},{"r":12.5,"f":21,"v":0.00055},{"r":13,"f":21,"v":0.00056},{"r":13.5,"f":21,"v":0.00056},{"r":14,"f":21,"v":0.00057},{"r":14.5,"f":21,"v":0.00057},{"r":15,"f":21,"v":0.00058},{"r":15.5,"f":21,"v":0.00059},{"r":16,"f":21,"v":0.0006},
{"r":2,"f":17,"v":0.00099},{"r":2.5,"f":17,"v":0.00099},{"r":3,"f":17,"v":0.00099},{"r":3.5,"f":17,"v":0.00099},{"r":4,"f":17,"v":0.00098},{"r":4.5,"f":17,"v":0.00096},{"r":5,"f":17,"v":0.00093},{"r":5.5,"f":17,"v":0.0009},{"r":6,"f":17,"v":0.00087},{"r":6.5,"f":17,"v":0.00083},{"r":7,"f":17,"v":0.0008},{"r":7.5,"f":17,"v":0.00077},{"r":8,"f":17,"v":0.00074},{"r":8.5,"f":17,"v":0.00072},{"r":9,"f":17,"v":0.0007},{"r":9.5,"f":17,"v":0.00069},{"r":10,"f":17,"v":0.00068},{"r":10.5,"f":17,"v":0.00068},{"r":11,"f":17,"v":0.00068},{"r":11.5,"f":17,"v":0.00068},{"r":12,"f":17,"v":0.00068},{"r":12.5,"f":17,"v":0.00068},{"r":13,"f":17,"v":0.00068},{"r":13.5,"f":17,"v":0.00068},{"r":14,"f":17,"v":0.00069},{"r":14.5,"f":17,"v":0.00069},{"r":15,"f":17,"v":0.0007},{"r":15.5,"f":17,"v":0.0007},{"r":16,"f":17,"v":0.00071},
{"r":2,"f":13,"v":0.00105},{"r":2.5,"f":13,"v":0.00106},{"r":3,"f":13,"v":0.00106},{"r":3.5,"f":13,"v":0.00106},{"r":4,"f":13,"v":0.00105},{"r":4.5,"f":13,"v":0.00102},{"r":5,"f":13,"v":0.000995},{"r":5.5,"f":13,"v":0.00097},{"r":6,"f":13,"v":0.00094},{"r":6.5,"f":13,"v":0.00092},{"r":7,"f":13,"v":0.0009},{"r":7.5,"f":13,"v":0.00089},{"r":8,"f":13,"v":0.00088},{"r":8.5,"f":13,"v":0.00087},{"r":9,"f":13,"v":0.00087},{"r":9.5,"f":13,"v":0.00086},{"r":10,"f":13,"v":0.00086},{"r":10.5,"f":13,"v":0.00086},{"r":11,"f":13,"v":0.00086},{"r":11.5,"f":13,"v":0.00085},{"r":12,"f":13,"v":0.00084},{"r":12.5,"f":13,"v":0.00083},{"r":13,"f":13,"v":0.00083},{"r":13.5,"f":13,"v":0.00083},{"r":14,"f":13,"v":0.00083},{"r":14.5,"f":13,"v":0.00084},{"r":15,"f":13,"v":0.00085},{"r":15.5,"f":13,"v":0.00086},{"r":16,"f":13,"v":0.00087},
{"r":2,"f":9,"v":0.0011},{"r":2.5,"f":9,"v":0.0011},{"r":3,"f":9,"v":0.0011},{"r":3.5,"f":9,"v":0.0011},{"r":4,"f":9,"v":0.00109},{"r":4.5,"f":9,"v":0.00108},{"r":5,"f":9,"v":0.00106},{"r":5.5,"f":9,"v":0.00103},{"r":6,"f":9,"v":0.00101},{"r":6.5,"f":9,"v":0.001},{"r":7,"f":9,"v":0.00099},{"r":7.5,"f":9,"v":0.00098},{"r":8,"f":9,"v":0.00098},{"r":8.5,"f":9,"v":0.00097},{"r":9,"f":9,"v":0.00097},{"r":9.5,"f":9,"v":0.00097},{"r":10,"f":9,"v":0.00097},{"r":10.5,"f":9,"v":0.00097},{"r":11,"f":9,"v":0.00097},{"r":11.5,"f":9,"v":0.00097},{"r":12,"f":9,"v":0.00097},{"r":12.5,"f":9,"v":0.00097},{"r":13,"f":9,"v":0.00097},{"r":13.5,"f":9,"v":0.00097},{"r":14,"f":9,"v":0.00097},{"r":14.5,"f":9,"v":0.00097},{"r":15,"f":9,"v":0.00098},{"r":15.5,"f":9,"v":0.00098},{"r":16,"f":9,"v":0.00098}
],
"edge":[
{"r":2,"f":5.9,"v":0.00135},{"r":2.25,"f":5.9,"v":0.00135},{"r":2.5,"f":5.9,"v":0.00135},{"r":2.75,"f":5.9,"v":0.00135},{"r":3,"f":5.9,"v":0.00135},{"r":3.25,"f":5.9,"v":0.00135},{"r":3.5,"f":5.9,"v":0.00135},{"r":3.75,"f":5.9,"v":0.00135},{"r":4,"f":5.9,"v":0.00135},{"r":4.25,"f":5.9,"v":0.00135},{"r":4.5,"f":5.9,"v":0.00135},{"r":4.75,"f":5.9,"v":0.00135},{"r":5,"f":5.9,"v":0.00135},{"r":5.25,"f":5.9,"v":0.0013},{"r":5.5,"f":5.9,"v":0.0013},{"r":5.75,"f":5.9,"v":0.0013},{"r":6,"f":5.9,"v":0.0013},{"r":6.25,"f":5.9,"v":0.0013},{"r":6.5,"f":5.9,"v":0.0013},{"r":6.75,"f":5.9,"v":0.0013},{"r":7,"f":5.9,"v":0.0013},{"r":7.25,"f":5.9,"v":0.0013},{"r":7.5,"f":5.9,"v":0.0013},{"r":7.75,"f":5.9,"v":0.0013},{"r":8,"f":5.9,"v":0.0013},{"r":8.25,"f":5.9,"v":0.00126},{"r":8.5,"f":5.9,"v":0.00126},{"r":8.75,"f":5.9,"v":0.00126},{"r":9,"f":5.9,"v":0.00126},{"r":9.25,"f":5.9,"v":0.00126},{"r":9.5,"f":5.9,"v":0.00126},{"r":9.75,"f":5.9,"v":0.00126},{"r":10,"f":5.9,"v":0.00126},{"r":10.25,"f":5.9,"v":0.00126},{"r":10.5,"f":5.9,"v":0.00126},{"r":10.75,"f":5.9,"v":0.00126},{"r":11,"f":5.9,"v":0.00126},{"r":11.25,"f":5.9,"v":0.00126},{"r":11.5,"f":5.9,"v":0.00126},{"r":11.75,"f":5.9,"v":0.00126},{"r":12,"f":5.9,"v":0.00126},{"r":12.25,"f":5.9,"v":0.00126},{"r":12.5,"f":5.9,"v":0.00126},{"r":12.75,"f":5.9,"v":0.00126},{"r":13,"f":5.9,"v":0.00126},{"r":13.25,"f":5.9,"v":0.00126},{"r":13.5,"f":5.9,"v":0.00126},{"r":13.75,"f":5.9,"v":0.00126},{"r":14,"f":5.9,"v":0.00126},{"r":14.25,"f":5.9,"v":0.00126},{"r":14.5,"f":5.9,"v":0.00126},{"r":14.75,"f":5.9,"v":0.00126},{"r":15,"f":5.9,"v":0.00126},{"r":15.25,"f":5.9,"v":0.00126},{"r":15.5,"f":5.9,"v":0.00126},{"r":15.75,"f":5.9,"v":0.00126},{"r":16,"f":5.9,"v":0.00126},
{"r":2,"f":3.7,"v":0.00163},{"r":2.25,"f":3.7,"v":0.00163},{"r":2.5,"f":3.7,"v":0.00163},{"r":2.75,"f":3.7,"v":0.00163},{"r":3,"f":3.7,"v":0.00163},{"r":3.25,"f":3.7,"v":0.00163},{"r":3.5,"f":3.7,"v":0.00163},{"r":3.75,"f":3.7,"v":0.00163},{"r":4,"f":3.7,"v":0.00163},{"r":4.25,"f":3.7,"v":0.00163},{"r":4.5,"f":3.7,"v":0.00163},{"r":4.75,"f":3.7,"v":0.00163},{"r":5,"f":3.7,"v":0.00163},{"r":5.25,"f":3.7,"v":0.00163},{"r":5.5,"f":3.7,"v":0.00163},{"r":5.75,"f":3.7,"v":0.00163},{"r":6,"f":3.7,"v":0.00163},{"r":6.25,"f":3.7,"v":0.00163},{"r":6.5,"f":3.7,"v":0.00163},{"r":6.75,"f":3.7,"v":0.00163},{"r":7,"f":3.7,"v":0.00163},{"r":7.25,"f":3.7,"v":0.00155},{"r":7.5,"f":3.7,"v":0.00155},{"r":7.75,"f":3.7,"v":0.00155},{"r":8,"f":3.7,"v":0.00155},{"r":8.25,"f":3.7,"v":0.00155},{"r":8.5,"f":3.7,"v":0.00155},{"r":8.75,"f":3.7,"v":0.0015},{"r":9,"f":3.7,"v":0.0015},{"r":9.25,"f":3.7,"v":0.0015},{"r":9.5,"f":3.7,"v":0.0015},{"r":9.75,"f":3.7,"v":0.0015},{"r":10,"f":3.7,"v":0.0015},{"r":10.25,"f":3.7,"v":0.0015},{"r":10.5,"f":3.7,"v":0.0015},{"r":10.75,"f":3.7,"v":0.00145},{"r":11,"f":3.7,"v":0.00145},{"r":11.25,"f":3.7,"v":0.00145},{"r":11.5,"f":3.7,"v":0.00145},{"r":11.75,"f":3.7,"v":0.00145},{"r":12,"f":3.7,"v":0.00145},{"r":12.25,"f":3.7,"v":0.00145},{"r":12.5,"f":3.7,"v":0.00145},{"r":12.75,"f":3.7,"v":0.00145},{"r":13,"f":3.7,"v":0.00145},{"r":13.25,"f":3.7,"v":0.00145},{"r":13.5,"f":3.7,"v":0.00145},{"r":13.75,"f":3.7,"v":0.00145},{"r":14,"f":3.7,"v":0.00145},{"r":14.25,"f":3.7,"v":0.00145},{"r":14.5,"f":3.7,"v":0.00145},{"r":14.75,"f":3.7,"v":0.00145},{"r":15,"f":3.7,"v":0.00145},{"r":15.25,"f":3.7,"v":0.00145},{"r":15.5,"f":3.7,"v":0.00145},{"r":15.75,"f":3.7,"v":0.00145},{"r":16,"f":3.7,"v":0.00145}
],
"lines":[
{"k":"0.0032","s":"a","i":0,"r":2.68,"f":128.9},{"k":"0.0032","s":"a","i":1,"r":2.85,"f":126},{"k":"0.0032","s":"a","i":2,"r":3.1,"f":122},{"k":"0.0032","s":"a","i":3,"r":3.5,"f":117.5},{"k":"0.0032","s":"a","i":4,"r":3.9,"f":113.5},{"k":"0.0032","s":"a","i":5,"r":4.08,"f":110.5},{"k":"0.0032","s":"a","i":6,"r":4.05,"f":107.5},{"k":"0.0032","s":"a","i":7,"r":3.85,"f":104},{"k":"0.0032","s":"a","i":8,"r":3.45,"f":100},{"k":"0.0032","s":"a","i":9,"r":2.9,"f":97},{"k":"0.0032","s":"a","i":10,"r":2.3,"f":95.2},{"k":"0.0032","s":"a","i":11,"r":1.875,"f":94.3},
{"k":"0.0021","s":"b","i":0,"r":3.45,"f":128.9},{"k":"0.0021","s":"b","i":1,"r":4.0,"f":128.1},{"k":"0.0021","s":"b","i":2,"r":4.54,"f":127.2},{"k":"0.0021","s":"b","i":3,"r":5.3,"f":125.2},{"k":"0.0021","s":"b","i":4,"r":5.9,"f":123},{"k":"0.0021","s":"b","i":5,"r":6.5,"f":120},{"k":"0.0021","s":"b","i":6,"r":7.0,"f":117.3},{"k":"0.0021","s":"b","i":7,"r":7.37,"f":115.1},{"k":"0.0021","s":"b","i":8,"r":7.7,"f":112.3},{"k":"0.0021","s":"b","i":9,"r":7.89,"f":109.9},{"k":"0.0021","s":"b","i":10,"r":8.05,"f":107},{"k":"0.0021","s":"b","i":11,"r":8.1,"f":104.7},{"k":"0.0021","s":"b","i":12,"r":8.02,"f":101.5},{"k":"0.0021","s":"b","i":13,"r":7.85,"f":99.3},{"k":"0.0021","s":"b","i":14,"r":7.67,"f":97.7},{"k":"0.0021","s":"b","i":15,"r":7.07,"f":93.7},{"k":"0.0021","s":"b","i":16,"r":6.48,"f":90.2},{"k":"0.0021","s":"b","i":17,"r":6.1,"f":88.6},{"k":"0.0021","s":"b","i":18,"r":5.0,"f":85.3},{"k":"0.0021","s":"b","i":19,"r":4.0,"f":82.6},{"k":"0.0021","s":"b","i":20,"r":3.0,"f":80.3},{"k":"0.0021","s":"b","i":21,"r":1.875,"f":78.6},
{"k":"0.001","s":"c","i":0,"r":1.875,"f":54.5},{"k":"0.001","s":"c","i":1,"r":1.95,"f":56.5},{"k":"0.001","s":"c","i":2,"r":2.1,"f":58.5},{"k":"0.001","s":"c","i":3,"r":2.23,"f":60.2},{"k":"0.001","s":"c","i":4,"r":2.55,"f":62.3},{"k":"0.001","s":"c","i":5,"r":2.98,"f":64.1},{"k":"0.001","s":"c","i":6,"r":3.5,"f":65.6},{"k":"0.001","s":"c","i":7,"r":4.02,"f":66.8},{"k":"0.001","s":"c","i":8,"r":5.0,"f":68.4},{"k":"0.001","s":"c","i":9,"r":6.0,"f":69.7},{"k":"0.001","s":"c","i":10,"r":6.7,"f":70.6},{"k":"0.001","s":"c","i":11,"r":7.7,"f":72},{"k":"0.001","s":"c","i":12,"r":8.71,"f":73.3},{"k":"0.001","s":"c","i":13,"r":9.5,"f":74.3},{"k":"0.001","s":"c","i":14,"r":10.2,"f":75.3},{"k":"0.001","s":"c","i":15,"r":10.8,"f":76.1},{"k":"0.001","s":"c","i":16,"r":11.35,"f":77},{"k":"0.001","s":"c","i":17,"r":11.7,"f":78.3},{"k":"0.001","s":"c","i":18,"r":12.05,"f":79.9},{"k":"0.001","s":"c","i":19,"r":12.45,"f":81.8},{"k":"0.001","s":"c","i":20,"r":12.79,"f":83.8},{"k":"0.001","s":"c","i":21,"r":13.1,"f":85.8},{"k":"0.001","s":"c","i":22,"r":13.3,"f":87.5},{"k":"0.001","s":"c","i":23,"r":13.55,"f":91.5},{"k":"0.001","s":"c","i":24,"r":13.72,"f":95},{"k":"0.001","s":"c","i":25,"r":13.78,"f":98.5},{"k":"0.001","s":"c","i":26,"r":13.68,"f":103},{"k":"0.001","s":"c","i":27,"r":13.45,"f":107.5},{"k":"0.001","s":"c","i":28,"r":13.1,"f":111.5},{"k":"0.001","s":"c","i":29,"r":12.6,"f":114.5},{"k":"0.001","s":"c","i":30,"r":12.0,"f":117.2},{"k":"0.001","s":"c","i":31,"r":11.3,"f":119.6},{"k":"0.001","s":"c","i":32,"r":10.7,"f":121.6},{"k":"0.001","s":"c","i":33,"r":10.05,"f":123.7},{"k":"0.001","s":"c","i":34,"r":10.5,"f":125.0},{"k":"0.001","s":"c","i":35,"r":11.3,"f":125.6},{"k":"0.001","s":"c","i":36,"r":12.3,"f":126.4},{"k":"0.001","s":"c","i":37,"r":13.4,"f":127.2},{"k":"0.001","s":"c","i":38,"r":14.5,"f":128.1},{"k":"0.001","s":"c","i":39,"r":15.5,"f":128.9},
{"k":"0.001","s":"d","i":0,"r":4.69,"f":128.9},{"k":"0.001","s":"d","i":1,"r":5.0,"f":128.0},{"k":"0.001","s":"d","i":2,"r":5.5,"f":127.5},{"k":"0.001","s":"d","i":3,"r":6.0,"f":127.5},{"k":"0.001","s":"d","i":4,"r":6.5,"f":127.9},{"k":"0.001","s":"d","i":5,"r":6.85,"f":128.9},
{"k":"0.001","s":"e","i":0,"r":1.875,"f":16.0},{"k":"0.001","s":"e","i":1,"r":2.5,"f":16.5},{"k":"0.001","s":"e","i":2,"r":3.0,"f":16.8},{"k":"0.001","s":"e","i":3,"r":3.57,"f":16.9},{"k":"0.001","s":"e","i":4,"r":4.1,"f":16.5},{"k":"0.001","s":"e","i":5,"r":4.45,"f":15.6},{"k":"0.001","s":"e","i":6,"r":4.55,"f":12.9},{"k":"0.001","s":"e","i":7,"r":5.0,"f":11.8},{"k":"0.001","s":"e","i":8,"r":5.49,"f":10.9},{"k":"0.001","s":"e","i":9,"r":6.0,"f":10.3},{"k":"0.001","s":"e","i":10,"r":6.7,"f":9.7},{"k":"0.001","s":"e","i":11,"r":7.7,"f":9.0},{"k":"0.001","s":"e","i":12,"r":8.71,"f":8.5},{"k":"0.001","s":"e","i":13,"r":10.0,"f":8.2},{"k":"0.001","s":"e","i":14,"r":11.39,"f":8.0},{"k":"0.001","s":"e","i":15,"r":13.0,"f":8.1},{"k":"0.001","s":"e","i":16,"r":14.5,"f":8.5},{"k":"0.001","s":"e","i":17,"r":16.125,"f":9.2}
]
},
"encoding":{
"x":{"field":"r","type":"quantitative","scale":{"domain":[1.875,16.125],"nice":false,"zero":false},"axis":{"values":[2,4,6,8,10,12,14,16],"labelPadding":19,"title":"Migration Rate","titlePadding":4}},
"y":{"field":"f","type":"quantitative","scale":{"domain":[2.6,128.8],"nice":false,"zero":false},"axis":{"values":[20,40,60,80,100,120],"labelPadding":13,"title":"Migration Frequency","titlePadding":12}}
},
"layer":[
{"data":{"name":"grid"},"mark":{"type":"square","size":150,"opacity":1,"strokeWidth":0,"clip":true},
"encoding":{"fill":{"field":"v","type":"quantitative","scale":{"domain":[0.0004,0.0005,0.0006,0.0007,0.0008,0.0009,0.001,0.0011,0.0012,0.0013,0.0014,0.0015,0.0016,0.0018,0.0019,0.002,0.0021,0.0022,0.0023,0.0025,0.0027,0.0029,0.0031,0.0033,0.0035,0.0037,0.0039,0.0041],"range":["#050510","#0b0c26","#141845","#1c2163","#24297a","#2c368e","#34469e","#3352a6","#2461aa","#1672a6","#0c8a8c","#189e6a","#33b14f","#5cb946","#6ea33c","#84873a","#a65a32","#d03028","#ec1c24","#ef4026","#f26b27","#f6931e","#f9ad1c","#fbc51a","#fddf16","#f8ea55","#f8f0a0","#fffdf0"],"interpolate":"rgb","clamp":true},
"legend":{"orient":"none","legendX":327,"legendY":-29,"direction":"vertical","gradientLength":321,"gradientThickness":16,"gradientStrokeColor":"#444","gradientStrokeWidth":1,"values":[0.001,0.002,0.003,0.004],"format":".3f","labelFontSize":17,"labelOffset":16,"labelColor":"#000","title":"Fitness","titleFontSize":17,"titleFontWeight":"normal","titleColor":"#000","titlePadding":10,"titleAnchor":"middle","padding":0}}}},
{"data":{"name":"edge"},"mark":{"type":"square","size":36,"opacity":1,"strokeWidth":0,"clip":true},
"encoding":{"fill":{"field":"v","type":"quantitative","scale":{"domain":[0.0004,0.0005,0.0006,0.0007,0.0008,0.0009,0.001,0.0011,0.0012,0.0013,0.0014,0.0015,0.0016,0.0018,0.0019,0.002,0.0021,0.0022,0.0023,0.0025,0.0027,0.0029,0.0031,0.0033,0.0035,0.0037,0.0039,0.0041],"range":["#050510","#0b0c26","#141845","#1c2163","#24297a","#2c368e","#34469e","#3352a6","#2461aa","#1672a6","#0c8a8c","#189e6a","#33b14f","#5cb946","#6ea33c","#84873a","#a65a32","#d03028","#ec1c24","#ef4026","#f26b27","#f6931e","#f9ad1c","#fbc51a","#fddf16","#f8ea55","#f8f0a0","#fffdf0"],"interpolate":"rgb","clamp":true},
"legend":{"orient":"none","legendX":327,"legendY":-29,"direction":"vertical","gradientLength":321,"gradientThickness":16,"gradientStrokeColor":"#444","gradientStrokeWidth":1,"values":[0.001,0.002,0.003,0.004],"format":".3f","labelFontSize":17,"labelOffset":16,"labelColor":"#000","title":"Fitness","titleFontSize":17,"titleFontWeight":"normal","titleColor":"#000","titlePadding":10,"titleAnchor":"middle","padding":0}}}},
{"data":{"name":"lines"},"mark":{"type":"line","strokeWidth":2,"clip":true},
"encoding":{"stroke":{"field":"k","type":"nominal","scale":{"domain":["0.0032","0.0021","0.001"],"range":["#52aee0","#e39c2c","#f2e22e"]},"legend":null},"detail":{"field":"s","type":"nominal"},"order":{"field":"i","type":"quantitative"}}}
]
}
